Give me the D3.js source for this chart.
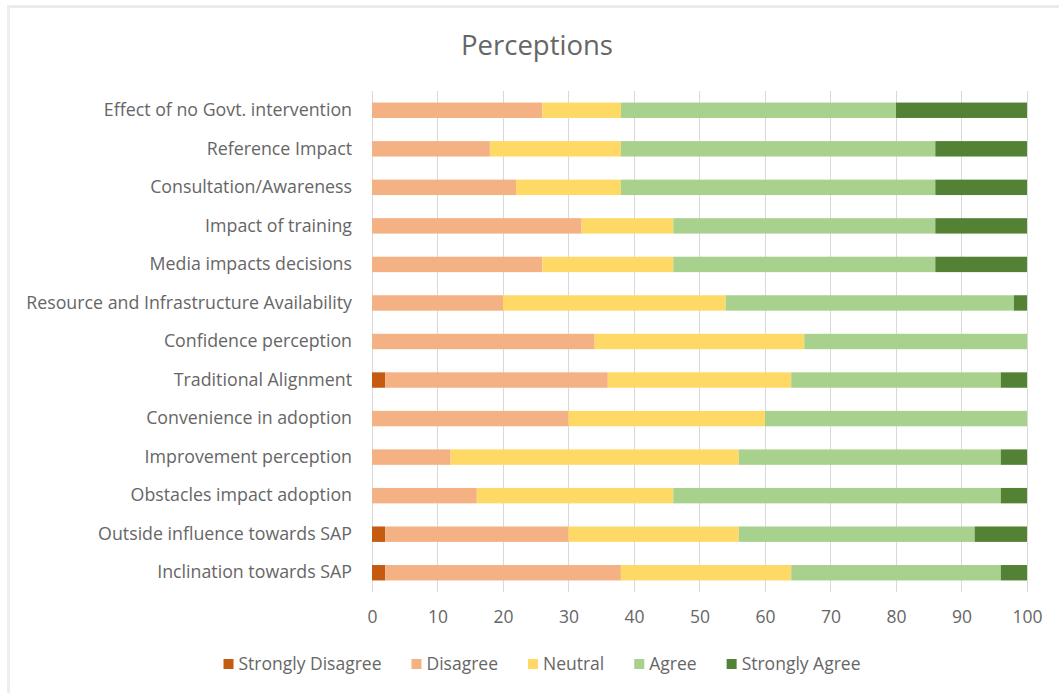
<!DOCTYPE html>
<html>
<head>
<meta charset="utf-8">
<script src="https://cdn.jsdelivr.net/npm/d3@7"></script>
<style>
html,body{margin:0;padding:0;background:#fff;}
svg{display:block;}
text{font-family:"Open Sans","Lato",sans-serif;}
</style>
</head>
<body>
<svg id="chart" width="1059" height="693"></svg>
<script>
const categories = [
  "Effect of no Govt. intervention",
  "Reference Impact",
  "Consultation/Awareness",
  "Impact of training",
  "Media impacts decisions",
  "Resource and Infrastructure Availability",
  "Confidence perception",
  "Traditional Alignment",
  "Convenience in adoption",
  "Improvement perception",
  "Obstacles impact adoption",
  "Outside influence towards SAP",
  "Inclination towards SAP"
];
const seriesNames = ["Strongly Disagree","Disagree","Neutral","Agree","Strongly Agree"];
const stronglyDisagree = [0,0,0,0,0,0,0,2,0,0,0,2,2];
const disagree         = [26,18,22,32,26,20,34,34,30,12,16,28,36];
const neutral          = [12,20,16,14,20,34,32,28,30,44,30,26,26];
const agree            = [42,48,48,40,40,44,34,32,40,40,50,36,32];
const stronglyAgree    = [20,14,14,14,14,2,0,4,0,4,4,8,4];
const xTicks = [0,10,20,30,40,50,60,70,80,90,100];
const colors = ["#c55a11","#f4b183","#ffd966","#a9d18e","#548235"];

const seriesVals = [stronglyDisagree,disagree,neutral,agree,stronglyAgree];
const rows = categories.map((c,i)=>{
  const o={category:c};
  seriesNames.forEach((s,j)=>o[s]=seriesVals[j][i]);
  return o;
});

const svg = d3.select("#chart");
const textColor = "#666666";

// frame
svg.append("rect").attr("x",0).attr("y",0).attr("width",1059).attr("height",693).attr("fill","#fff");
svg.append("rect").attr("x",7).attr("y",5).attr("width",1052).attr("height",3).attr("fill","#ebebeb");
svg.append("rect").attr("x",7).attr("y",5).attr("width",3).attr("height",688).attr("fill","#eeeeee");

const x = d3.scaleLinear().domain([0,100]).range([372,1027]);
const y = d3.scaleBand().domain(categories).range([91,592]).paddingInner(0.6).paddingOuter(0.3);

// grid
svg.append("g").selectAll("line").data(xTicks).join("line")
  .attr("x1",d=>x(d)).attr("x2",d=>x(d)).attr("y1",91).attr("y2",592)
  .attr("stroke","#d9d9d9").attr("stroke-width",1).attr("shape-rendering","crispEdges");

// stacked bars
const stack = d3.stack().keys(seriesNames)(rows);
svg.append("g").selectAll("g").data(stack).join("g")
  .attr("fill",(d,i)=>colors[i])
  .selectAll("rect").data(d=>d).join("rect")
  .attr("x",d=>x(d[0]))
  .attr("width",d=>x(d[1])-x(d[0]))
  .attr("y",d=>y(d.data.category))
  .attr("height",y.bandwidth());

// x axis labels
const xAxis = d3.axisBottom(x).tickValues(xTicks).tickSize(0).tickPadding(0);
const gx = svg.append("g").attr("transform","translate(0,611)").call(xAxis);
gx.select(".domain").remove();
gx.selectAll("text").attr("fill",textColor).style("font-size","17.5px").attr("dy","0.71em");

// y axis labels
const yAxis = d3.axisLeft(y).tickSize(0).tickPadding(20);
const gy = svg.append("g").attr("transform","translate(372,0)").call(yAxis);
gy.select(".domain").remove();
gy.selectAll("text").attr("fill",textColor).style("font-size","17.8px");

// title
svg.append("text").attr("x",537).attr("y",55).attr("text-anchor","middle")
  .attr("fill",textColor).style("font-size","27.5px").text("Perceptions");

// legend
const legend = svg.append("g");
let lx = 0;
seriesNames.forEach((s,i)=>{
  const g = legend.append("g");
  g.append("rect").attr("x",0).attr("y",-5).attr("width",10).attr("height",10).attr("fill",colors[i]);
  const t = g.append("text").attr("x",15).attr("y",0).attr("dy","0.35em")
    .attr("fill",textColor).style("font-size","17.5px").text(s);
  const w = 15 + t.node().getComputedTextLength();
  g.attr("transform",`translate(${lx},0)`);
  lx += w + 30;
});
const totalW = lx - 30;
legend.attr("transform",`translate(${542 - totalW/2},664)`);
</script>
</body>
</html>
